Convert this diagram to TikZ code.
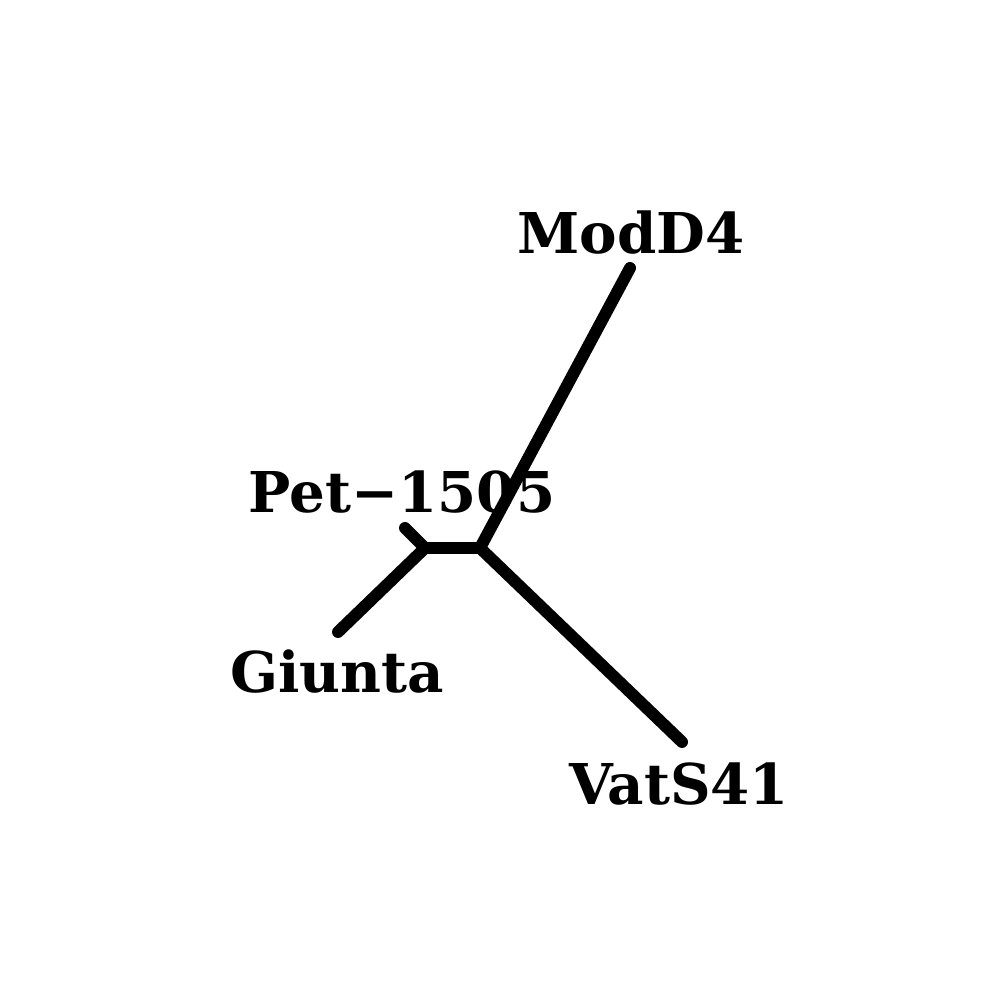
\documentclass[tikz,border=0pt]{standalone}
\usepackage{fontspec}
\setmainfont{DejaVu Serif}
\begin{document}
\begin{tikzpicture}
[nodedecorate/.style={shape=coordinate},%
  linedecorate/.style={-,line width=3.4pt,line cap=round},%
  labeldecorate/.style={font=\bfseries\fontsize{16}{19}\selectfont,inner sep=0pt}]
\useasboundingbox (0,0) rectangle (10,10);
% nodes or vertices
\node (u) at (4.25,4.52) [nodedecorate] {};
\node (v) at (4.80,4.52) [nodedecorate] {};
\node (p) at (4.05,4.72) [nodedecorate] {};
\node [labeldecorate] (plab) at (4.02,5.08) {Pet\textminus1505};
\node (g) at (3.38,3.68) [nodedecorate] {};
\node [labeldecorate] (glab) at (3.37,3.28) {Giunta};
\node (m) at (6.30,7.32) [nodedecorate] {};
\node [labeldecorate] (mlab) at (6.31,7.67) {ModD4};
\node (w) at (6.82,2.58) [nodedecorate] {};
\node [labeldecorate] (wlab) at (6.79,2.16) {VatS41};
% edges or lines
\path
(u) edge[linedecorate] node {} (v)
(u) edge[linedecorate] node {} (p)
(u) edge[linedecorate] node {} (g)
(v) edge[linedecorate] node {} (m)
(v) edge[linedecorate] node {} (w);
\end{tikzpicture}
\end{document}
